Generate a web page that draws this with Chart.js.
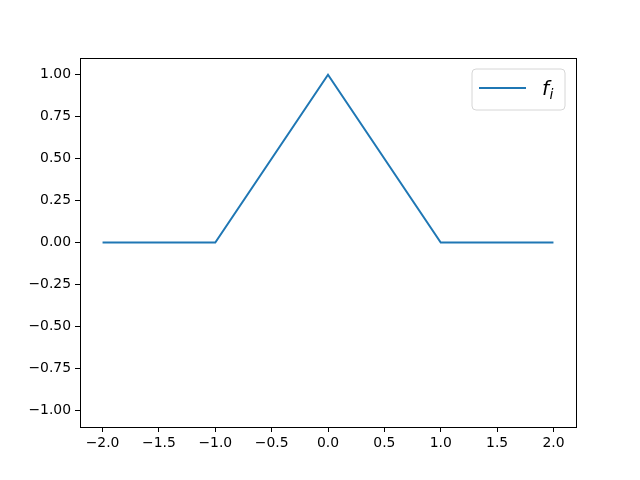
<!DOCTYPE html>
<html>
<head>
<meta charset="utf-8">
<script src="https://cdn.jsdelivr.net/npm/chart.js@4"></script>
<style>
  body { margin: 0; background: #fff; }
  canvas { display: block; }
</style>
</head>
<body>
<canvas id="chart" width="640" height="480"></canvas>
<script>
// data for the hat function f_i
const xValues = [-2, -1, 0, 1, 2];
const yValues = [0, 0, 1, 0, 0];
const xTicks = [-2, -1.5, -1, -0.5, 0, 0.5, 1, 1.5, 2];
const yTicks = [-1, -0.75, -0.5, -0.25, 0, 0.25, 0.5, 0.75, 1];
const seriesLabel = 'f_i';

const lineColor = '#1f77b4';
const tickFont = {family: 'DejaVu Sans', size: 13.9};

function fmt(v, digits) {
  return v.toFixed(digits).replace('-', '\u2212');
}

const framePlugin = {
  id: 'frame',
  afterDraw(chart) {
    const ctx = chart.ctx;
    const a = chart.chartArea;
    ctx.save();
    ctx.strokeStyle = '#000';
    ctx.lineWidth = 1;
    ctx.strokeRect(Math.round(a.left) + 0.5, Math.round(a.top) + 0.5,
      Math.round(a.right - a.left), Math.round(a.bottom - a.top));

    // legend box
    const bx = 472, by = 69, bw = 93, bh = 41, r = 4;
    ctx.beginPath();
    ctx.moveTo(bx + r, by);
    ctx.arcTo(bx + bw, by, bx + bw, by + bh, r);
    ctx.arcTo(bx + bw, by + bh, bx, by + bh, r);
    ctx.arcTo(bx, by + bh, bx, by, r);
    ctx.arcTo(bx, by, bx + bw, by, r);
    ctx.closePath();
    ctx.fillStyle = 'rgba(255,255,255,0.8)';
    ctx.fill();
    ctx.strokeStyle = '#d6d6d6';
    ctx.stroke();

    ctx.beginPath();
    ctx.strokeStyle = lineColor;
    ctx.lineWidth = 2;
    ctx.moveTo(479, 88);
    ctx.lineTo(526, 88);
    ctx.stroke();

    const parts = seriesLabel.split('_');
    ctx.fillStyle = '#000';
    ctx.textBaseline = 'alphabetic';
    ctx.font = 'italic 20px "DejaVu Sans"';
    ctx.fillText(parts[0], 542, 95);
    const w = ctx.measureText(parts[0]).width;
    ctx.font = 'italic 14px "DejaVu Sans"';
    ctx.fillText(parts[1], 542 + w + 0.5, 99);
    ctx.restore();
  }
};

new Chart(document.getElementById('chart'), {
  type: 'line',
  data: {
    datasets: [{
      label: seriesLabel,
      data: xValues.map((x, i) => ({x: x, y: yValues[i]})),
      borderColor: lineColor,
      borderWidth: 2,
      pointRadius: 0,
      tension: 0,
      fill: false
    }]
  },
  options: {
    responsive: false,
    animation: false,
    events: [],
    layout: {padding: {left: 0, top: 58, right: 64, bottom: 0}},
    plugins: {legend: {display: false}, tooltip: {enabled: false}},
    scales: {
      x: {
        type: 'linear',
        min: -2.2,
        max: 2.2,
        afterBuildTicks: (axis) => { axis.ticks = xTicks.map(v => ({value: v})); },
        afterFit: (axis) => { axis.height = 53; },
        grid: {drawOnChartArea: false, tickLength: 5, tickColor: '#000', color: '#000'},
        border: {color: '#000'},
        ticks: {
          color: '#000',
          font: tickFont,
          padding: 3,
          maxRotation: 0,
          autoSkip: false,
          callback: (v) => fmt(v, 1)
        }
      },
      y: {
        type: 'linear',
        min: -1.1,
        max: 1.1,
        afterBuildTicks: (axis) => { axis.ticks = yTicks.map(v => ({value: v})); },
        afterFit: (axis) => { axis.width = 80; },
        grid: {drawOnChartArea: false, tickLength: 5, tickColor: '#000', color: '#000'},
        border: {color: '#000'},
        ticks: {
          color: '#000',
          font: tickFont,
          padding: 4,
          autoSkip: false,
          callback: (v) => fmt(v, 2)
        }
      }
    }
  },
  plugins: [framePlugin]
});
</script>
</body>
</html>
